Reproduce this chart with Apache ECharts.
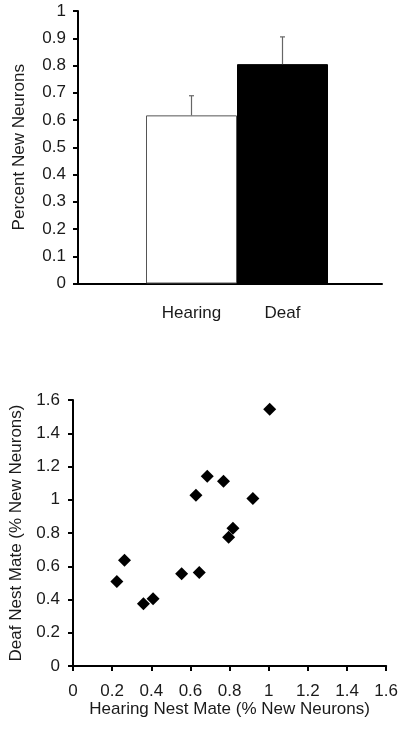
<!DOCTYPE html>
<html><head><meta charset="utf-8">
<script src="https://cdn.jsdelivr.net/npm/echarts@6/dist/echarts.min.js"></script>
<style>html,body{margin:0;padding:0;background:#fff}#c{width:401px;height:730px}</style>
</head><body><div id="c"></div>
<script>
// Top panel data
const barCategories = ['Hearing', 'Deaf'];
const barValues = [0.617, 0.805];
const barErrors = [0.072, 0.100];
const barYTicks = { min: 0, max: 1, interval: 0.1 };
// Bottom panel data
const hearingNestMate = [1.005, 0.686, 0.769, 0.628, 0.919, 0.817, 0.795, 0.263, 0.224, 0.555, 0.645, 0.360, 0.409];
const deafNestMate    = [1.544, 1.141, 1.111, 1.027, 1.007, 0.828, 0.774, 0.636, 0.509, 0.555, 0.563, 0.375, 0.405];
const scatterTicks = { min: 0, max: 1.6, interval: 0.2 };

const FONT = 'Liberation Sans, Arial, sans-serif';
const TXT = '#1a1a1a';
const lineStyle = { color: '#000', width: 2 };

const chart = echarts.init(document.getElementById('c'), null, { renderer: 'canvas' });
const scatterData = hearingNestMate.map((x, i) => [x, deafNestMate[i]]);

chart.setOption({
  animation: false,
  backgroundColor: '#fff',
  textStyle: { fontFamily: FONT },
  grid: [
    { left: 78, top: 11, width: 304, height: 272.5 },
    { left: 146, top: 11, width: 182, height: 272.5 },
    { left: 72.7, top: 400, width: 314, height: 266 }
  ],
  xAxis: [
    { gridIndex: 0, type: 'category', data: [''], axisLine: { lineStyle }, axisTick: { show: false }, axisLabel: { show: false } },
    { gridIndex: 1, type: 'category', data: barCategories, axisLine: { show: false }, axisTick: { show: false },
      axisLabel: { color: TXT, fontSize: 17, fontFamily: FONT, margin: 21 } },
    { gridIndex: 2, type: 'value', min: scatterTicks.min, max: scatterTicks.max, interval: scatterTicks.interval,
      axisLine: { lineStyle }, axisTick: { show: true, inside: false, length: 5, lineStyle: { color: '#000', width: 2 } },
      splitLine: { show: false },
      axisLabel: { color: TXT, fontSize: 17, fontFamily: FONT, margin: 17 },
      name: 'Hearing Nest Mate (% New Neurons)', nameLocation: 'middle', nameGap: 33,
      nameTextStyle: { color: TXT, fontSize: 17, fontFamily: FONT } }
  ],
  yAxis: [
    { gridIndex: 0, type: 'value', min: barYTicks.min, max: barYTicks.max, interval: barYTicks.interval,
      axisLine: { show: true, lineStyle }, axisTick: { show: true, length: 5, lineStyle: { color: '#000', width: 2 } },
      splitLine: { show: false },
      axisLabel: { color: TXT, fontSize: 17, fontFamily: FONT, margin: 12 },
      name: 'Percent New Neurons', nameLocation: 'middle', nameGap: 50,
      nameTextStyle: { color: TXT, fontSize: 17, fontFamily: FONT } },
    { gridIndex: 1, type: 'value', min: barYTicks.min, max: barYTicks.max, show: false },
    { gridIndex: 2, type: 'value', min: scatterTicks.min, max: scatterTicks.max, interval: scatterTicks.interval,
      axisLine: { show: true, lineStyle }, axisTick: { show: true, length: 5, lineStyle: { color: '#000', width: 2 } },
      splitLine: { show: false },
      axisLabel: { color: TXT, fontSize: 17, fontFamily: FONT, margin: 13 },
      name: 'Deaf Nest Mate (% New Neurons)', nameLocation: 'middle', nameGap: 48,
      nameTextStyle: { color: TXT, fontSize: 17, fontFamily: FONT } }
  ],
  series: [
    {
      type: 'bar', xAxisIndex: 1, yAxisIndex: 1, barCategoryGap: '0%',
      data: barValues.map((v, i) => ({
        value: v,
        itemStyle: i === 0 ? { color: '#fff', borderColor: '#555', borderWidth: 1 } : { color: '#000', borderColor: '#000', borderWidth: 1 }
      }))
    },
    {
      type: 'custom', xAxisIndex: 1, yAxisIndex: 1, z: 10,
      data: barValues.map((v, i) => [i, v, v + barErrors[i]]),
      renderItem: function (params, api) {
        const p0 = api.coord([api.value(0), api.value(1)]);
        const p1 = api.coord([api.value(0), api.value(2)]);
        const cap = 5;
        const st = { stroke: '#666', lineWidth: 1.2 };
        return { type: 'group', children: [
          { type: 'line', shape: { x1: p0[0], y1: p0[1], x2: p1[0], y2: p1[1] }, style: st },
          { type: 'line', shape: { x1: p1[0] - cap / 2, y1: p1[1], x2: p1[0] + cap / 2, y2: p1[1] }, style: st }
        ] };
      }
    },
    {
      type: 'scatter', xAxisIndex: 2, yAxisIndex: 2, symbol: 'diamond', symbolSize: 13,
      itemStyle: { color: '#000', opacity: 1 }, data: scatterData
    }
  ]
});
</script></body></html>
